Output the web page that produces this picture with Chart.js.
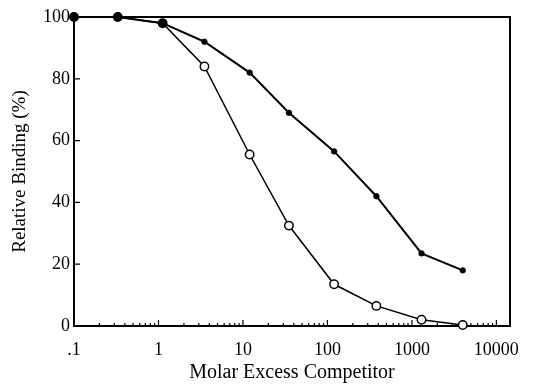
<!DOCTYPE html>
<html>
<head>
<meta charset="utf-8">
<script src="https://cdn.jsdelivr.net/npm/chart.js@4"></script>
<style>
html, body { margin:0; padding:0; background:#fff; }
#wrap { width:538px; height:385px; }
</style>
</head>
<body>
<div id="wrap"><canvas id="chart" width="538" height="385"></canvas></div>
<script>
// molar excess of competitor (x)
var excess = [0.1, 0.33, 1.12, 3.5, 12, 35, 120, 380, 1300, 4000]
// relative binding (%), filled circles
var bindingFilled = [100, 100, 98, 92, 82, 69, 56.5, 42, 23.5, 18]
// relative binding (%), open circles
var bindingOpen = [100, 100, 98, 84, 55.5, 32.5, 13.5, 6.5, 2, 0.3]
var xTicks = [0.1, 1, 10, 100, 1000, 10000]
var xTickLabels = ['.1', '1', '10', '100', '1000', '10000']
var yTicks = [0, 20, 40, 60, 80, 100]

function pts(ys){
  return excess.map(function(x, i){ return {x: x, y: ys[i]} })
}

var serif = "'Liberation Serif', 'Times New Roman', serif"
Chart.defaults.font.family = serif
Chart.defaults.color = '#000'

// frame + inward tick marks like the printed figure
var boxPlugin = {
  id: 'box',
  beforeDatasetsDraw: function(chart){
    var ctx = chart.ctx, a = chart.chartArea
    var xs = chart.scales.x, ys = chart.scales.y
    ctx.save()
    ctx.strokeStyle = '#000'
    ctx.lineWidth = 2
    ctx.strokeRect(a.left, a.top, a.right - a.left, a.bottom - a.top)
    ctx.lineWidth = 1.2
    ctx.beginPath()
    yTicks.forEach(function(v){
      var py = ys.getPixelForValue(v)
      ctx.moveTo(a.left, py)
      ctx.lineTo(a.left + 6, py)
    })
    xTicks.forEach(function(v){
      for (var m = 1; m < 10; m++){
        var val = v * m
        if (val > xs.max) break
        var px = xs.getPixelForValue(val)
        var len = m == 1 ? 6 : 3
        ctx.moveTo(px, a.bottom)
        ctx.lineTo(px, a.bottom - len)
      }
    })
    ctx.stroke()
    ctx.restore()
  }
}

var chart = new Chart(document.getElementById('chart'), {
  type: 'line',
  data: {
    datasets: [{
      label: 'filled',
      data: pts(bindingFilled),
      borderColor: '#000',
      backgroundColor: '#000',
      borderWidth: 2,
      pointBackgroundColor: '#000',
      pointBorderColor: '#000',
      pointBorderWidth: 1,
      pointRadius: function(c){ return c.dataIndex < 3 ? 4 : 2.7 },
      tension: 0,
      clip: false
    }, {
      label: 'open',
      data: pts(bindingOpen),
      borderColor: '#000',
      borderWidth: 1.5,
      pointBackgroundColor: '#fff',
      pointBorderColor: '#000',
      pointBorderWidth: 1.5,
      pointRadius: 4.2,
      tension: 0,
      clip: false
    }]
  },
  options: {
    responsive: false,
    animation: false,
    devicePixelRatio: 1,
    layout: { padding: { top: 17, right: 28, bottom: 0, left: 0 } },
    plugins: { legend: { display: false }, tooltip: { enabled: false } },
    scales: {
      x: {
        type: 'logarithmic',
        min: 0.1,
        max: 14500,
        grid: { display: false, drawTicks: false },
        border: { display: false },
        afterBuildTicks: function(s){
          s.ticks = xTicks.map(function(v){ return {value: v} })
        },
        afterFit: function(s){ s.height = 59 },
        ticks: {
          autoSkip: false,
          maxRotation: 0,
          padding: 13,
          font: { size: 18 },
          callback: function(v){
            var i = xTicks.indexOf(v)
            return i >= 0 ? xTickLabels[i] : ''
          }
        },
        title: {
          display: true,
          text: 'Molar Excess Competitor',
          font: { size: 20 },
          padding: { top: 13, bottom: 0 }
        }
      },
      y: {
        min: 0,
        max: 100,
        grid: { display: false, drawTicks: false },
        border: { display: false },
        afterFit: function(s){ s.width = 74 },
        ticks: { stepSize: 20, padding: 4, font: { size: 18 } },
        title: {
          display: true,
          text: 'Relative Binding (%)',
          font: { size: 19 },
          padding: { top: 9, bottom: 0 }
        }
      }
    }
  },
  plugins: [boxPlugin]
})
</script>
</body>
</html>
